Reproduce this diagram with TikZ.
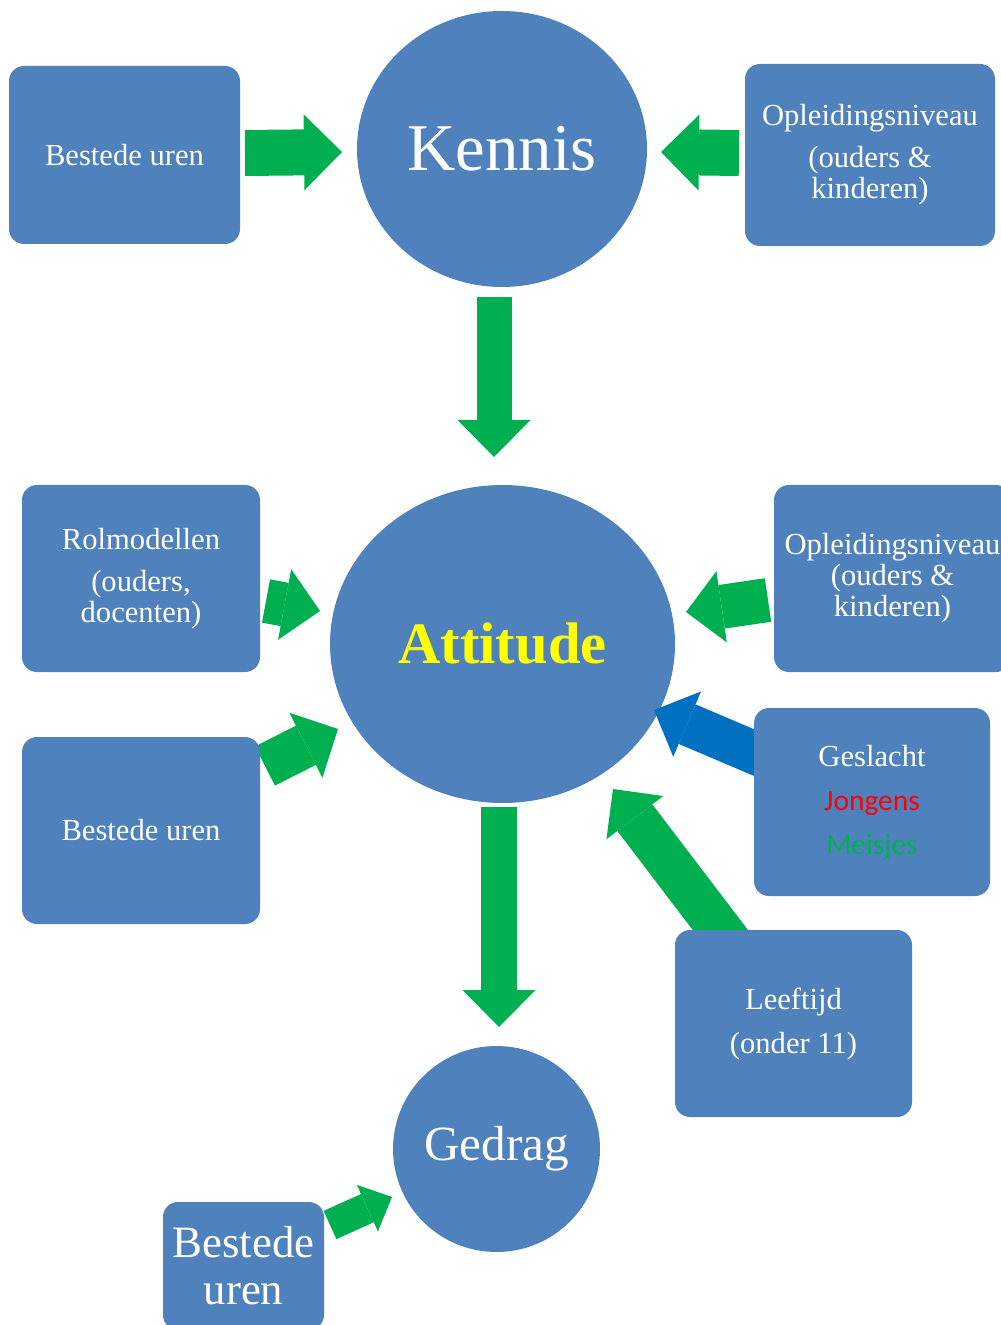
\documentclass[tikz,border=0pt]{standalone}
\usepackage{fontspec}
\setmainfont{Liberation Serif}
\newfontfamily\calibri{Carlito}
\usetikzlibrary{shapes.geometric,arrows.meta}
\definecolor{boxblue}{HTML}{4F81BD}
\definecolor{arrowgreen}{HTML}{00B050}
\definecolor{arrowblue}{HTML}{0070C0}
\definecolor{geel}{HTML}{FFFF00}
\tikzset{
  box/.style={rectangle, rounded corners=7.5pt, fill=boxblue, text=white, align=center, inner sep=0pt, font=\fontsize{15.3}{15.5}\selectfont},
  bubble/.style={ellipse, fill=boxblue, text=white, inner sep=0pt},
  fatarrow/.style n args={3}{draw=arrowgreen, line width=#1, -{Triangle[width=#2, length=#3, line width=0pt]}}
}
\begin{document}
\begin{tikzpicture}[x=0.5pt,y=-0.5pt]
\useasboundingbox (0,0) rectangle (1000,1325);
\node[bubble, minimum width=145pt, minimum height=138pt, font=\fontsize{33.4}{40}\selectfont] (kennis) at (502,149) {Kennis};
\node[bubble, minimum width=172.5pt, minimum height=159pt, font=\bfseries\fontsize{29.3}{35}\selectfont, text=geel] (attitude) at (502.5,644) {Attitude};
\node[bubble, minimum width=103.5pt, minimum height=103pt, font=\fontsize{24.6}{30}\selectfont] (gedrag) at (496.5,1149) {Gedrag};

\coordinate (uren1out) at (245,153);
\coordinate (kennisW) at (342,152);
\coordinate (opl1out) at (739,153);
\coordinate (kennisE) at (661,152);
\coordinate (kennisS) at (494,297);
\coordinate (attN) at (494,457);
\coordinate (attS) at (499,807);
\coordinate (gedragN) at (499,1027);
\coordinate (rolout) at (266,601);
\coordinate (attW) at (320,611);
\coordinate (uren2out) at (265,766);
\coordinate (attSW) at (338,729);
\coordinate (opl2out) at (768,600);
\coordinate (attE) at (686,612);
\coordinate (gesout) at (762,756);
\coordinate (attSE) at (654,710);
\coordinate (leefout) at (731,944);
\coordinate (attSSE) at (613,789);
\coordinate (uren3out) at (330,1225);
\coordinate (gedragW) at (392,1197);

\draw[fatarrow={23pt}{38pt}{19pt}] (uren1out) -- (kennisW);
\draw[fatarrow={23pt}{38pt}{19pt}] (opl1out) -- (kennisE);
\draw[fatarrow={17.5pt}{36.5pt}{18.5pt}] (kennisS) -- (attN);
\draw[fatarrow={18pt}{36.5pt}{18.5pt}] (attS) -- (gedragN);
\draw[fatarrow={22pt}{36pt}{18pt}] (rolout) -- (attW);
\draw[fatarrow={22pt}{36.5pt}{18pt}] (uren2out) -- (attSW);
\draw[fatarrow={22pt}{36pt}{18pt}] (opl2out) -- (attE);
\draw[fatarrow={21.5pt}{35.5pt}{18pt}, draw=arrowblue] (gesout) -- (attSE);
\draw[fatarrow={22pt}{35.7pt}{18pt}] (leefout) -- (attSSE);
\draw[fatarrow={15.5pt}{25.5pt}{13.5pt}] (uren3out) -- (gedragW);

\node[box, minimum width=115.5pt, minimum height=89pt] (uren1) at (124.5,155) {Bestede uren};
\node[box, minimum width=125pt, minimum height=91pt] (opl1) at (870,155) {Opleidingsniveau\\[5.5pt](ouders \&\\kinderen)};
\node[box, minimum width=119pt, minimum height=93.5pt] (rol) at (141,578.5) {Rolmodellen\\[5.5pt](ouders,\\docenten)};
\node[box, minimum width=118.5pt, minimum height=93.5pt] (opl2) at (892.5,578.5) {Opleidingsniveau\\(ouders \&\\kinderen)};
\node[box, minimum width=119pt, minimum height=93.5pt] (uren2) at (141,830.5) {Bestede uren};
\node[box, minimum width=118pt, minimum height=94pt] (geslacht) at (872,802) {Geslacht\\[6.5pt]{\calibri\fontsize{14.75}{15.5}\selectfont\color{red}Jongens}\\[6.5pt]{\calibri\fontsize{14.75}{15.5}\selectfont\color{arrowgreen}Meisjes}};
\node[box, minimum width=118.5pt, minimum height=93.5pt] (leeftijd) at (793.5,1023.5) {Leeftijd\\[6.5pt](onder 11)};
\node[box, minimum width=80.5pt, minimum height=64pt, font=\fontsize{22.4}{23.5}\selectfont] (uren3) at (243.5,1266) {Bestede\\uren};
\end{tikzpicture}
\end{document}
